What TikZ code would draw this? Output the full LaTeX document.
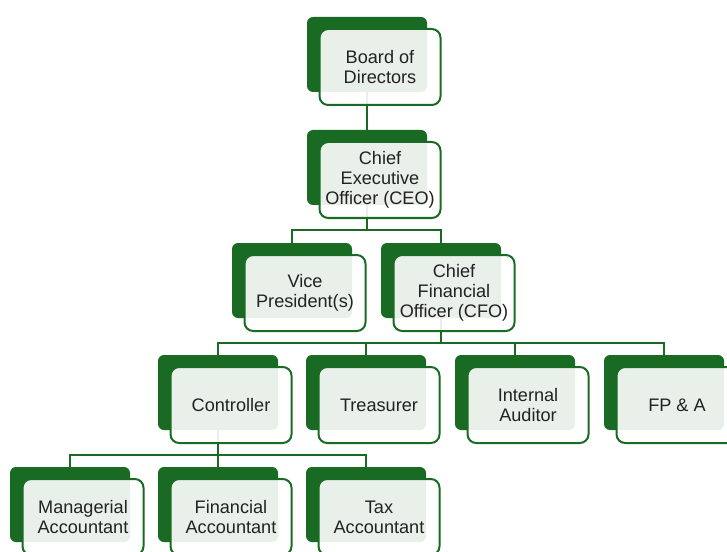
\documentclass[tikz,border=0pt]{standalone}
\usepackage{fontspec}
\setmainfont{Liberation Sans}
\usepackage{tikz}
\usetikzlibrary{positioning,calc}
\definecolor{orggreen}{HTML}{196B24}
\definecolor{orgtext}{HTML}{222222}

\begin{document}
\begin{tikzpicture}[x=0.75pt, y=-0.75pt,
  back/.style={fill=orggreen, rounded corners=4.5pt, minimum width=90pt,
               minimum height=56.25pt, inner sep=0pt},
  front/.style={draw=orggreen, line width=1.5pt, rounded corners=6.5pt,
                fill=white, fill opacity=0.9, text opacity=1,
                minimum width=90.75pt, minimum height=57pt, inner sep=0pt,
                align=center, text=orgtext,
                font=\fontsize{13.6}{15}\selectfont},
  link/.style={draw=orggreen, line width=1.6pt}
]
  \useasboundingbox (0,0) rectangle (727,552);
  \clip (0,0) rectangle (727,552);

  % Back plates
  \node[back] (boardB) at (367,54.5)  {};
  \node[back] (ceoB)   at (367,167.5) {};
  \node[back] (vpB)    at (292,280.5) {};
  \node[back] (cfoB)   at (441,280.5) {};
  \node[back] (ctrlB)  at (218,392.5) {};
  \node[back] (treasB) at (366,392.5) {};
  \node[back] (audB)   at (515,392.5) {};
  \node[back] (fpaB)   at (664,392.5) {};
  \node[back] (mgrB)   at (70,504.5)  {};
  \node[back] (finB)   at (218,504.5) {};
  \node[back] (taxB)   at (366,504.5) {};

  % Connectors
  \draw[link] (boardB.south) -- (ceoB.north);
  \draw[link] (ceoB.south) -- ++(0,25) -| (vpB.north);
  \draw[link] (ceoB.south) -- ++(0,25) -| (cfoB.north);
  \foreach \t in {ctrlB,treasB,audB,fpaB}
    \draw[link] (cfoB.south) -- ++(0,25) -| (\t.north);
  \foreach \t in {mgrB,finB,taxB}
    \draw[link] (ctrlB.south) -- ++(0,25) -| (\t.north);

  % Front boxes
  \node[front] (board) at (380,67)  {Board of\\Directors};
  \node[front] (ceo)   at (380,180) {Chief\\Executive\\Officer (CEO)};
  \node[front] (vp)    at (305,293) {Vice\\President(s)};
  \node[front] (cfo)   at (454,293) {Chief\\Financial\\Officer (CFO)};
  \node[front] (ctrl)  at (231,405) {Controller};
  \node[front] (treas) at (379,405) {Treasurer};
  \node[front] (aud)   at (528,405) {Internal\\Auditor};
  \node[front] (fpa)   at (677,405) {FP \& A};
  \node[front] (mgr)   at (83,517)  {Managerial\\Accountant};
  \node[front] (fin)   at (231,517) {Financial\\Accountant};
  \node[front] (tax)   at (379,517) {Tax\\Accountant};
\end{tikzpicture}
\end{document}
